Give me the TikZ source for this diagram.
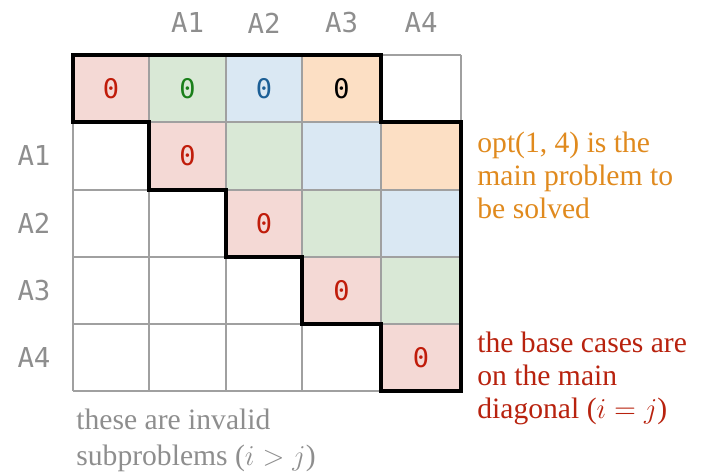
\documentclass[tikz,border=0pt]{standalone}
\usepackage{fontspec}
\setmainfont{Liberation Serif}
\setmonofont{DejaVu Sans Mono}
\usepackage{tikz}
\usepackage{xcolor}
\usetikzlibrary{calc}

\definecolor{cellred}{HTML}{F4D9D5}
\definecolor{cellgreen}{HTML}{D9E8D6}
\definecolor{cellblue}{HTML}{DAE8F3}
\definecolor{cellorange}{HTML}{FCDFC4}
\definecolor{zerored}{HTML}{C01C0A}
\definecolor{zerogreen}{HTML}{1A7F1A}
\definecolor{zeroblue}{HTML}{1C5F96}
\definecolor{noteorange}{HTML}{E08A1E}
\definecolor{notered}{HTML}{B8220E}
\definecolor{gridgray}{HTML}{A0A0A0}
\definecolor{labelgray}{HTML}{8E8E8E}

\tikzset{
  gridline/.style={gridgray, line width=1pt},
  boundary/.style={black, line width=2.3pt, line join=miter},
  zero/.style={font=\ttfamily\fontsize{13.5}{15}\selectfont, inner sep=0pt},
  axislabel/.style={font=\ttfamily\fontsize{13.7}{16}\selectfont, text=labelgray, inner sep=0pt},
  note/.style={font=\fontsize{14.8}{16.5}\selectfont, align=left, inner sep=0pt, anchor=base west}
}

\begin{document}
\begin{tikzpicture}[x=0.5pt, y=-0.5pt]

\useasboundingbox (0,0) rectangle (705,471);

% ===== Grid corners =====

\foreach \c/\x in {0/73,1/149,2/226,3/302,4/381,5/461}
  \foreach \r/\y in {0/55,1/122,2/190,3/257,4/324,5/391}
    \coordinate (g\c\r) at (\x,\y);

% ===== Cell fills =====

\foreach \c/\r/\col in {0/0/cellred,1/1/cellred,2/2/cellred,3/3/cellred,4/4/cellred,
                        1/0/cellgreen,2/1/cellgreen,3/2/cellgreen,4/3/cellgreen,
                        2/0/cellblue,3/1/cellblue,4/2/cellblue,
                        3/0/cellorange,4/1/cellorange}{
  \pgfmathtruncatemacro\cc{\c+1}
  \pgfmathtruncatemacro\rr{\r+1}
  \fill[\col] (g\c\r) rectangle (g\cc\rr);
}

% ===== Grid lines =====

\foreach \c in {0,...,5} \draw[gridline] (g\c0) -- (g\c5);
\foreach \r in {0,...,5} \draw[gridline] (g0\r) -- (g5\r);

% ===== Zeros =====

\node[zero, text=zerored]   (z00) at ($(g00)!0.5!(g11)$) {0};
\node[zero, text=zerogreen] (z10) at ($(g10)!0.5!(g21)$) {0};
\node[zero, text=zeroblue]  (z20) at ($(g20)!0.5!(g31)$) {0};
\node[zero, text=black]     (z30) at ($(g30)!0.5!(g41)$) {0};
\node[zero, text=zerored]   (z11) at ($(g11)!0.5!(g22)$) {0};
\node[zero, text=zerored]   (z22) at ($(g22)!0.5!(g33)$) {0};
\node[zero, text=zerored]   (z33) at ($(g33)!0.5!(g44)$) {0};
\node[zero, text=zerored]   (z44) at ($(g44)!0.5!(g55)$) {0};

% ===== Boundary of valid subproblems =====

\draw[boundary] (g00) -- (g40) -- (g41) -- (g51) -- (g55) -- (g45) -- (g44)
  -- (g34) -- (g33) -- (g23) -- (g22) -- (g12) -- (g11) -- (g01) -- cycle;

% ===== Axis labels =====

\foreach \i in {1,...,4}{
  \pgfmathtruncatemacro\j{\i+1}
  \node[axislabel] (col\i) at ($(g\i0)!0.5!(g\j0) + (0,-32)$) {A\i};
  \node[axislabel] (row\i) at ($(g0\i)!0.5!(g0\j) + (-39,0)$) {A\i};
}

% ===== Notes =====

\node[note, text=noteorange] (mainnote) at (477,218)
  {opt(1, 4) is the\\main problem to\\be solved};
\node[note, text=notered] (basenote) at (477,418)
  {the base cases are\\on the main\\diagonal ($i = j$)};
\node[note, text=labelgray, font=\fontsize{14.8}{18}\selectfont] (invalidnote) at (76,465)
  {these are invalid\\subproblems ($i > j$)};

\end{tikzpicture}
\end{document}
